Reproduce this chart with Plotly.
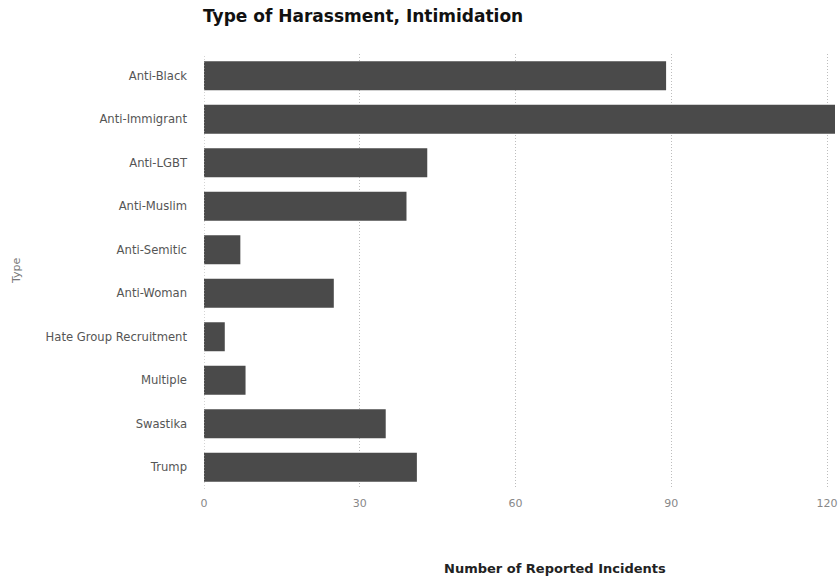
import plotly.graph_objects as go

categories = ["Anti-Black", "Anti-Immigrant", "Anti-LGBT", "Anti-Muslim", "Anti-Semitic",
              "Anti-Woman", "Hate Group Recruitment", "Multiple", "Swastika", "Trump"]
values = [89, 125, 43, 39, 7, 25, 4, 8, 35, 41]
tick_vals = [0, 30, 60, 90, 120]

W, H = 838, 577
L, R, T, B = 204, 0, 54, 88
PW, PH = W - L - R, H - T - B

fig = go.Figure(go.Bar(
    y=categories, x=values, orientation="h",
    marker=dict(color="#4a4a4a", line=dict(width=0)),
))

def px_x(px):
    return (px - L) / PW

def px_y(py):
    return 1 - (py - T) / PH

fig.update_layout(
    width=W, height=H,
    margin=dict(l=L, r=R, t=T, b=B, pad=0),
    plot_bgcolor="white", paper_bgcolor="white",
    font=dict(family="DejaVu Sans, Verdana, sans-serif", size=11, color="#555"),
    bargap=0.334,
    showlegend=False,
    title=dict(text="<b>Type of Harassment, Intimidation</b>", x=203 / W, xanchor="left",
               y=1 - 16 / H, yanchor="middle",
               font=dict(size=17, color="#111", family="DejaVu Sans, Verdana, sans-serif")),
    xaxis=dict(range=[0, 121.53], tickvals=tick_vals, showgrid=True, gridcolor="#bdbdbd",
               griddash="1px,2px", gridwidth=1, zeroline=False, showline=False,
               ticks="", ticklabelstandoff=6, ticklabeloverflow="allow",
               tickfont=dict(size=11, color="#888")),
    yaxis=dict(categoryorder="array", categoryarray=categories, autorange="reversed",
               showgrid=False, zeroline=False, showline=False, ticks="",
               ticklabelstandoff=16, tickfont=dict(size=11.6, color="#555")),
    shapes=[dict(type="line", xref="x", yref="paper", x0=0, x1=0, y0=0, y1=1,
                 line=dict(color="#aaa", width=1, dash="1px,2px"))],
    annotations=[
        dict(text="<b>Number of Reported Incidents</b>", xref="paper", yref="paper",
             x=px_x(557), y=px_y(568), xanchor="center", yanchor="middle", showarrow=False,
             font=dict(size=13, color="#222", family="DejaVu Sans, Verdana, sans-serif")),
        dict(text="Type", xref="paper", yref="paper", x=px_x(15), y=px_y(271),
             xanchor="center", yanchor="middle", textangle=-90, showarrow=False,
             font=dict(size=11, color="#777")),
    ],
)

fig.write_html("out.html", config={"displayModeBar": False},
               post_script="document.body.style.margin='0';document.body.style.overflow='hidden';")
